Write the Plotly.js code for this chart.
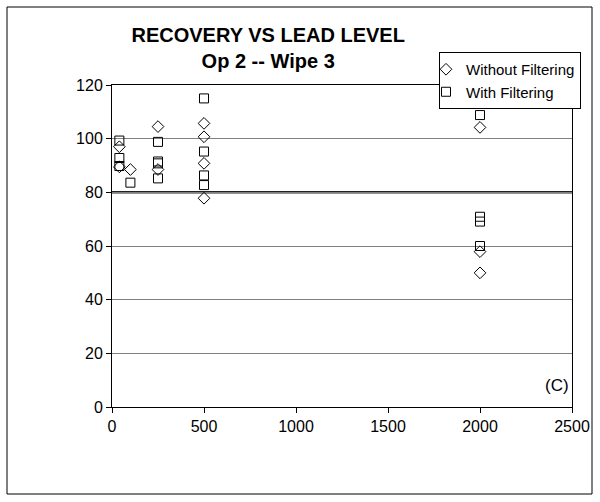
<!DOCTYPE html>
<html>
<head>
<meta charset="utf-8">
<script src="https://cdn.plot.ly/plotly-3.0.1.min.js"></script>
<style>
  html, body { margin: 0; padding: 0; background: #fff; }
  #chart { width: 600px; height: 502px; }
</style>
</head>
<body>
<div id="chart"></div>
<script>
// Without Filtering (diamonds)
const withoutX = [40, 40, 100, 250, 250, 500, 500, 500, 500, 2000, 2000, 2000];
const withoutY = [97, 89.5, 88.5, 104.5, 88.5, 105.7, 100.7, 90.8, 77.8, 104.2, 57.9, 50];
// With Filtering (squares)
const withX = [40, 40, 40, 100, 250, 250, 250, 250, 500, 500, 500, 500, 2000, 2000, 2000, 2000];
const withY = [99.3, 92.8, 89.8, 83.6, 98.8, 91.5, 90.8, 85.2, 115, 95.2, 86.3, 82.7, 108.8, 70.9, 69.1, 60];

const titleLines = ["RECOVERY VS LEAD LEVEL", "Op 2 -- Wipe 3"];
const seriesNames = ["Without Filtering", "With Filtering"];
const xTicks = [0, 500, 1000, 1500, 2000, 2500];
const yTicks = [0, 20, 40, 60, 80, 100, 120];
const refLineY = 80;
const panelLabel = "(C)";

const FONT = "Liberation Sans, Arial, Helvetica, sans-serif";

const traces = [
  {
    x: withoutX, y: withoutY, name: seriesNames[0], type: "scatter", mode: "markers",
    marker: { symbol: "diamond-open", size: 9, color: "#000", line: { color: "#000", width: 1 } }
  },
  {
    x: withX, y: withY, name: seriesNames[1], type: "scatter", mode: "markers",
    marker: { symbol: "square-open", size: 9, color: "#000", line: { color: "#000", width: 1 } }
  }
];

const layout = {
  width: 600, height: 502,
  paper_bgcolor: "#fff", plot_bgcolor: "#fff",
  margin: { l: 112, r: 28, t: 85, b: 95, pad: 0 },
  font: { family: FONT, color: "#000", size: 16 },
  title: {
    text: "<b>" + titleLines[0] + "</b><br><b>" + titleLines[1] + "</b>",
    font: { family: FONT, size: 20, color: "#000" },
    xref: "container", x: 0.447, xanchor: "center",
    yref: "container", y: 1 - 42 / 502, yanchor: "top"
  },
  xaxis: {
    range: [0, 2500], tickvals: xTicks, ticktext: xTicks.map(String),
    ticks: "outside", ticklen: 5, tickcolor: "#000", tickwidth: 1,
    showline: true, linecolor: "#000", linewidth: 1, mirror: true,
    showgrid: false, zeroline: false,
    tickfont: { family: FONT, size: 16, color: "#000" }
  },
  yaxis: {
    range: [0, 120], tickvals: yTicks, ticktext: yTicks.map(String),
    ticks: "outside", ticklen: 5, tickcolor: "#000", tickwidth: 1,
    showline: true, linecolor: "#000", linewidth: 1, mirror: true,
    showgrid: true, gridcolor: "#808080", gridwidth: 1, zeroline: false,
    tickfont: { family: FONT, size: 16, color: "#000" }
  },
  showlegend: true,
  legend: {
    x: (581 - 112) / 460, xanchor: "right",
    y: (407 - 52) / 322, yanchor: "top",
    bgcolor: "#fff", bordercolor: "#000", borderwidth: 1,
    font: { family: FONT, size: 15, color: "#000" },
    indentation: -14, tracegroupgap: 0, itemwidth: 30
  },
  shapes: [
    { type: "line", xref: "paper", x0: 0, x1: 1, yref: "y", y0: refLineY, y1: refLineY,
      line: { color: "#222", width: 2.5 }, layer: "below" },
    { type: "rect", xref: "paper", yref: "paper",
      x0: (7 - 112) / 460, x1: (592 - 112) / 460,
      y0: (407 - 494) / 322, y1: (407 - 7) / 322,
      line: { color: "#000", width: 1 }, fillcolor: "rgba(0,0,0,0)" }
  ],
  annotations: [
    { text: panelLabel, xref: "paper", yref: "paper", x: (571 - 112) / 460, y: (407 - 385) / 322,
      xanchor: "right", yanchor: "middle", showarrow: false,
      font: { family: FONT, size: 17, color: "#000" } }
  ]
};

Plotly.newPlot("chart", traces, layout, { staticPlot: true, displayModeBar: false });
</script>
</body>
</html>
